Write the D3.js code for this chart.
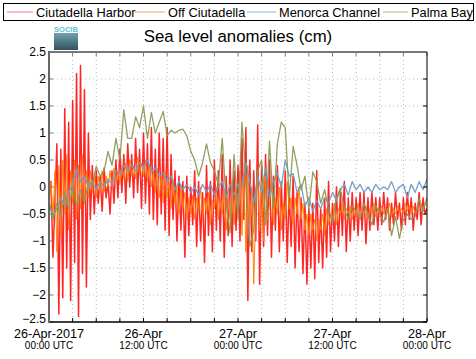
<!DOCTYPE html>
<html>
<head>
<meta charset="utf-8">
<script src="https://cdn.jsdelivr.net/npm/d3@7"></script>
<style>
  body { margin: 0; background: #fff; }
  svg { display: block; font-family: "Liberation Sans", Arial, sans-serif; }
</style>
</head>
<body>
<div id="chart"></div>
<script>
// Sea level anomalies (cm), 26-Apr-2017 00:00 UTC to 28-Apr 00:00 UTC
const startTime = Date.UTC(2017, 3, 26, 0, 0);
const seriesNames = ["Ciutadella Harbor", "Off Ciutadella", "Menorca Channel", "Palma Bay"];

// Ciutadella Harbor, every 15 minutes
const harborStepMin = 15;
const harbor = [
  -0.2, 0.1, -1.3, -0.3,
  0.8, -2.35, 0.7, -2.05,
  1.45, -1.5, 1.2, -2.1,
  1.6, -1.4, 2.1, -2.4,
  2.25, -1.6, 1.8, -1.85,
  1.0, -0.6, 0.4, -0.5,
  0.3, -0.3, 0.2, -0.45,
  0.35, -0.2, 0.1, -0.5,
  0.3, -0.3, 0.5, -0.2,
  0.7, -0.1, 0.6, -0.3,
  0.8, 0.0, 0.6, -0.2,
  0.9, -0.1, 0.7, -0.4,
  1.0, -0.3, 0.8, -0.5,
  1.1, -0.6, 0.7, -0.7,
  1.0, -0.5, 0.9, -0.8,
  1.1, -0.9, 0.6, -0.6,
  0.3, -1.0, 0.2, -0.8,
  0.1, -1.3, 0.2, -0.9,
  0.0, -0.7, 0.3, -1.1,
  0.1, -1.0, -0.1, -1.4,
  0.4, -0.9, 0.1, -1.2,
  0.5, -0.8, 0.3, -1.0,
  0.6, -1.3, 0.2, -0.9,
  0.5, -1.1, 0.3, -0.8,
  0.4, -1.0, 0.9, -0.6,
  1.1, -2.1, 0.5, -1.2,
  0.3, -1.0, 1.15, -1.8,
  0.4, -1.1, 0.6, -0.9,
  0.5, -1.3, 0.2, -0.8,
  0.4, -1.2, 0.1, -1.0,
  0.3, -1.4, 0.0, -1.1,
  0.2, -1.5, -0.1, -1.2,
  -0.2, -1.6, -0.3, -1.8,
  -0.4, -1.5, -0.3, -1.7,
  0.3, -1.4, -0.4, -1.5,
  -0.2, -1.3, 0.1, -1.2,
  -0.3, -1.0, 0.0, -1.1,
  -0.1, -0.9, 0.1, -1.2,
  -0.2, -1.0, -0.1, -0.8,
  -0.2, -0.9, -0.1, -0.8,
  -0.1, -1.05, -0.2, -0.8,
  -0.1, -0.7, -0.2, -0.8,
  -0.2, -0.7, -0.1, -0.6,
  -0.2, -0.8, -0.3, -0.7,
  -0.1, -0.6, -0.3, -0.8,
  -0.2, -0.7, -0.1, -0.6,
  -0.2, -0.8, -0.3, -0.6,
  -0.1, -0.7, -0.2, -0.5,
  -0.4
];

// Off Ciutadella, every 15 minutes
const offStepMin = 15;
const offCiutadella = [
  -0.4, 0.1, -0.6, 0.3,
  -1.2, 0.4, -0.9, 0.5,
  -0.5, 0.6, -0.8, 0.3,
  -0.3, 0.5, -0.6, 0.4,
  -0.4, 0.6, -0.3, 0.3,
  -0.2, 0.3, -0.1, 0.2,
  -0.2, 0.2, -0.1, 0.3,
  -0.1, 0.2, 0.0, 0.3,
  0.0, 0.35, 0.1, 0.3,
  0.05, 0.4, 0.15, 0.45,
  0.1, 0.5, 0.2, 0.4,
  0.15, 0.55, 0.25, 0.45,
  0.2, 0.5, 0.1, 0.4,
  0.0, 0.3, -0.1, 0.35,
  -0.2, 0.2, -0.3, 0.3,
  -0.2, 0.1, -0.4, 0.15,
  -0.3, 0.0, -0.5, 0.05,
  -0.4, -0.1, -0.6, -0.2,
  -0.5, -0.15, -0.6, -0.2,
  -0.45, 0.0, -0.6, -0.2,
  -0.5, -0.1, -0.7, -0.25,
  -0.4, 0.0, -0.6, -0.2,
  -0.5, -0.1, -0.8, -0.3,
  -0.6, 0.1, -0.7, -0.1,
  -0.5, 0.3, -0.9, 0.2,
  -1.2, 0.4, -0.6, 0.0,
  -1.8, -0.4, 0.3, -0.8,
  0.1, -1.0, 0.2, -0.6,
  -0.3, 0.1, -0.7, -0.2,
  -0.5, 0.0, -0.8, -0.3,
  -0.6, 0.1, -0.4, -0.2,
  -0.7, -0.2, -0.5, 0.0,
  -0.6, -0.3, -0.8, -0.5,
  -0.9, -0.5, -0.8, -0.6,
  -1.0, -0.6, -0.8, -0.5,
  -0.9, -0.4, -0.7, -0.5,
  -0.6, -0.3, -0.7, -0.4,
  -0.5, -0.3, -0.6, -0.4,
  -0.5, -0.35, -0.6, -0.4,
  -0.5, -0.3, -0.55, -0.45,
  -0.5, -0.35, -0.6, -0.4,
  -0.45, -0.3, -0.55, -0.4,
  -0.45, -0.35, -0.5, -0.4,
  -0.45, -0.3, -0.55, -0.4,
  -0.5, -0.35, -0.45, -0.4,
  -0.5, -0.3, -0.45, -0.35,
  -0.45, -0.35, -0.5, -0.4,
  -0.4, -0.3, -0.45, -0.3,
  -0.35
];

// Menorca Channel, every 30 minutes
const channelStepMin = 30;
const menorcaChannel = [
  -0.3, -0.55, -0.4, -0.2, -0.35, -0.1, 0.05, 0.35, 0.1, 0.2,
  0.0, 0.1, -0.05, 0.1, 0.0, 0.15, 0.05, 0.3, 0.25, 0.4,
  0.3, 0.4, 0.3, 0.45, 0.35, 0.5, 0.3, 0.35, 0.2, 0.25,
  0.1, 0.2, -0.05, 0.1, -0.05, 0.05, -0.1, 0.0, -0.15, 0.05,
  -0.1, 0.05, -0.15, 0.0, 0.1, -0.2, 0.05, -0.15, 0.05, 0.0,
  0.45, 0.1, -0.3, 0.2, -0.1, 0.35, -0.2, 0.1, 0.25, 0.0,
  0.5, 0.2, 0.25, -0.1, 0.05, -0.35, -0.2, -0.45, -0.25, -0.4,
  -0.2, -0.3, -0.1, -0.25, -0.05, 0.05, -0.15, 0.1, -0.05, 0.05,
  -0.1, 0.0, -0.1, 0.05, -0.05, 0.0, -0.05, 0.1, -0.1, 0.0,
  0.05, -0.2, 0.05, -0.1, 0.1, -0.05, 0.15
];

// Palma Bay, every 30 minutes
const bayStepMin = 30;
const palmaBay = [
  -0.25, -0.6, -0.3, -0.55, -0.1, -0.4, 0.0, -0.35, -0.05, -0.3,
  0.1, 0.05, 0.38, 0.2, 0.3, 0.66, 0.4, 0.9, 0.5, 1.43,
  0.9, 0.9, 1.3, 1.1, 1.5, 0.9, 1.38, 1.0, 1.2, 1.4,
  0.95, 1.05, 1.0, 1.05, 1.07, 0.95, 0.66, 0.5, 0.2, 0.45,
  0.8, 0.45, 0.3, 0.04, 0.9, -0.3, -0.85, 0.6, -0.6, 1.2,
  0.2, -1.1, -0.8, 0.3, 0.5, -0.7, 0.85, -0.4, 0.8, 1.2,
  1.1, -0.2, 0.75, 0.4, -0.05, 0.2, -0.42, 0.28, 0.1, -0.3,
  -0.05, -0.4, -0.66, -0.2, -0.03, -0.4, -0.6, -0.35, -0.45, -0.6,
  -0.3, -0.5, -0.7, -0.35, -0.5, -0.65, -0.4, -0.9, -0.55, -0.95,
  -0.6, -0.5, -0.6, -0.55, -0.22, -0.45, -0.2
];

const seriesColors = ["#ff0000", "#ff8000", "#6f9bc9", "#8a9b56"];
const legendColors = ["#f58a96", "#f9b47a", "#a6bede", "#b2c896"];
const yTicks = [-2.5, -2, -1.5, -1, -0.5, 0, 0.5, 1, 1.5, 2, 2.5];
const xLabelDays = ["26-Apr-2017", "26-Apr", "27-Apr", "27-Apr", "28-Apr"];
const xLabelHours = ["00:00 UTC", "12:00 UTC", "00:00 UTC", "12:00 UTC", "00:00 UTC"];

const width = 476, height = 359;
const plot = { left: 49, right: 427, top: 52, bottom: 322 };

const svg = d3.select("#chart").append("svg")
  .attr("width", width)
  .attr("height", height);

const x = d3.scaleUtc()
  .domain([new Date(startTime), new Date(startTime + 48 * 3600e3)])
  .range([plot.left, plot.right]);
const y = d3.scaleLinear().domain([-2.5, 2.5]).range([plot.bottom, plot.top]);

const toPoints = (vals, stepMin) =>
  vals.map((v, i) => ({ t: new Date(startTime + i * stepMin * 60e3), v }));

const allSeries = [
  toPoints(harbor, harborStepMin),
  toPoints(offCiutadella, offStepMin),
  toPoints(menorcaChannel, channelStepMin),
  toPoints(palmaBay, bayStepMin)
];

const gridTimes = d3.range(0, 49, 3).map(h => new Date(startTime + h * 3600e3));
const labelTimes = d3.range(0, 49, 12).map(h => new Date(startTime + h * 3600e3));

// dotted grid
const grid = svg.append("g").attr("stroke", "#b8b8b8").attr("stroke-dasharray", "1,3");
grid.selectAll("line.v").data(gridTimes.slice(1, -1)).join("line")
  .attr("x1", d => x(d)).attr("x2", d => x(d))
  .attr("y1", plot.top).attr("y2", plot.bottom);
grid.selectAll("line.h").data(yTicks.slice(1, -1)).join("line")
  .attr("x1", plot.left).attr("x2", plot.right)
  .attr("y1", d => y(d)).attr("y2", d => y(d));

// series
svg.append("clipPath").attr("id", "clip").append("rect")
  .attr("x", plot.left).attr("y", plot.top)
  .attr("width", plot.right - plot.left).attr("height", plot.bottom - plot.top);

const line = d3.line().x(d => x(d.t)).y(d => y(d.v));
const lines = svg.append("g").attr("clip-path", "url(#clip)").attr("fill", "none");
const strokeW = [1.5, 1, 1.3, 1.3];
allSeries.forEach((pts, i) => {
  lines.append("path")
    .attr("d", line(pts))
    .attr("stroke", seriesColors[i])
    .attr("stroke-width", strokeW[i])
    .attr("stroke-opacity", i === 0 ? 0.85 : 0.95)
    .attr("stroke-linejoin", "round");
});

// inner ticks on all four sides
const tickLen = 4;
const ticks = svg.append("g").attr("stroke", "#000").attr("stroke-width", 1);
gridTimes.forEach(t => {
  ticks.append("line").attr("x1", x(t)).attr("x2", x(t)).attr("y1", plot.bottom).attr("y2", plot.bottom - tickLen);
  ticks.append("line").attr("x1", x(t)).attr("x2", x(t)).attr("y1", plot.top).attr("y2", plot.top + tickLen).attr("stroke", "#777");
});
yTicks.forEach(v => {
  ticks.append("line").attr("x1", plot.right).attr("x2", plot.right - tickLen).attr("y1", y(v)).attr("y2", y(v));
  ticks.append("line").attr("x1", plot.left).attr("x2", plot.left + tickLen).attr("y1", y(v)).attr("y2", y(v)).attr("stroke", "#777");
});

// frame
svg.append("line").attr("x1", plot.left).attr("x2", plot.right).attr("y1", plot.top).attr("y2", plot.top)
  .attr("stroke", "#777").attr("stroke-width", 2);
svg.append("line").attr("x1", plot.right).attr("x2", plot.right).attr("y1", plot.top).attr("y2", plot.bottom)
  .attr("stroke", "#000").attr("stroke-width", 1);
svg.append("line").attr("x1", plot.left).attr("x2", plot.right).attr("y1", plot.bottom).attr("y2", plot.bottom)
  .attr("stroke", "#000").attr("stroke-width", 1.5);
svg.append("line").attr("x1", plot.left).attr("x2", plot.left).attr("y1", plot.top - 1).attr("y2", plot.bottom + 1)
  .attr("stroke", "#666").attr("stroke-width", 2);

// y labels (lowest one nudged up so it clears the date label)
svg.append("g").selectAll("text").data(yTicks).join("text")
  .attr("x", plot.left - 3)
  .attr("y", d => y(d) - (d === -2.5 ? 3.5 : 0))
  .attr("dy", "0.34em")
  .attr("text-anchor", "end")
  .attr("font-size", 12)
  .text(d => d3.format("")(d));

// x labels
const xl = svg.append("g").selectAll("g").data(labelTimes).join("g")
  .attr("transform", d => `translate(${x(d)},0)`);
xl.append("text").attr("y", 337.5).attr("text-anchor", "middle").attr("font-size", 12.6)
  .text((d, i) => xLabelDays[i]);
xl.append("text").attr("y", 348.5).attr("text-anchor", "middle").attr("font-size", 10)
  .text((d, i) => xLabelHours[i]);

// title
svg.append("text").attr("x", 238).attr("y", 42).attr("text-anchor", "middle")
  .attr("font-size", 16.8).text("Sea level anomalies (cm)");

// logo
const grad = svg.append("defs").append("linearGradient").attr("id", "logoGrad")
  .attr("x1", 0).attr("y1", 0).attr("x2", 0).attr("y2", 1);
grad.append("stop").attr("offset", 0).attr("stop-color", "#6fa3b3");
grad.append("stop").attr("offset", 1).attr("stop-color", "#34505c");
svg.append("rect").attr("x", 54).attr("y", 33).attr("width", 24).attr("height", 17).attr("fill", "url(#logoGrad)");
svg.append("text").attr("x", 66).attr("y", 32).attr("text-anchor", "middle")
  .attr("font-size", 7.5).attr("font-weight", "bold").attr("fill", "#5cc3d4").text("SOCIB");

// legend
svg.append("rect").attr("x", 3.5).attr("y", 3.5).attr("width", 470).attr("height", 17)
  .attr("fill", "#fff").attr("stroke", "#000");
const legendX = [7, 135, 247, 383];
const legendW = [26, 30, 29, 25];
seriesNames.forEach((name, i) => {
  svg.append("line").attr("x1", legendX[i]).attr("x2", legendX[i] + legendW[i])
    .attr("y1", 12).attr("y2", 12).attr("stroke", legendColors[i]).attr("stroke-width", 1.2);
  svg.append("text").attr("x", legendX[i] + legendW[i] + 3).attr("y", 16.5)
    .attr("font-size", 12.8).text(name);
});
</script>
</body>
</html>
